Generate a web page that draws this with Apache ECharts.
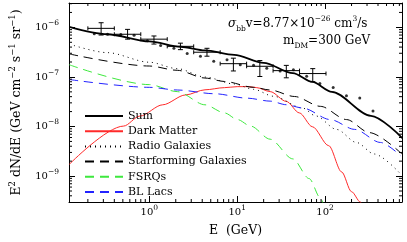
<!DOCTYPE html>
<html><head><meta charset="utf-8">
<script src="https://cdn.jsdelivr.net/npm/echarts@6/dist/echarts.min.js"></script>
<style>html,body{margin:0;padding:0;background:#fff}#c{width:407px;height:242px}</style>
</head><body><div id="c"></div>
<script>
// ---------- data ----------
const sumE    = [0.1227, 0.333, 1, 2.27, 4.30, 9.26, 20.0, 43.0, 71.7, 119.4, 332.7, 755];
const sumFlux = [1.02e-6, 7.26e-7, 5.2e-7, 4.06e-7, 3.42e-7, 2.78e-7, 1.93e-7, 1.19e-7, 7.92e-8, 5.0e-8, 1.64e-8, 5.86e-9];

const dmE    = [0.1227, 0.510, 0.780, 1.42, 2.58, 4.30, 7.17, 10.0, 13.6, 16.7, 23.7, 36.2, 51.0, 71.7, 110, 154.5, 199.5, 253, 280];
const dmFlux = [1.72e-9, 1.02e-8, 1.62e-8, 2.74e-8, 4.33e-8, 5.5e-8, 6.08e-8, 6.37e-8, 6.37e-8, 6.08e-8, 5.06e-8, 3.21e-8, 1.88e-8, 9.9e-9, 4.1e-9, 1.21e-9, 4.86e-10, 2.98e-10, 2.0e-10];

const radioE    = [0.1227, 0.333, 1, 2.08, 4.30, 9.26, 15.4, 25.8, 55.5, 78.0, 136, 227, 362, 717];
const radioFlux = [4.6e-7, 3.09e-7, 1.98e-7, 1.47e-7, 9.95e-8, 7.2e-8, 5.62e-8, 4.08e-8, 2.36e-8, 1.64e-8, 8.7e-9, 4.77e-9, 2.79e-9, 1.12e-9];

const sfE    = [0.1227, 1, 2.08, 4.30, 7.17, 15.4, 23.7, 44.9, 88.7, 175.5, 318.6, 749];
const sfFlux = [2.91e-7, 1.66e-7, 1.36e-7, 9.5e-8, 8.1e-8, 6.17e-8, 5.45e-8, 4.03e-8, 2.55e-8, 1.38e-8, 7.53e-9, 2.79e-9];

const fsrqE    = [0.1227, 1, 2.08, 4.30, 7.17, 10.1, 14.2, 23.7, 43.0, 65.9, 88.8, 97.5];
const fsrqFlux = [1.76e-7, 7.0e-8, 5.06e-8, 2.74e-8, 1.88e-8, 1.38e-8, 1.02e-8, 5.55e-9, 2.22e-9, 8.9e-10, 3.58e-10, 2.45e-10];

const bllacE    = [0.1227, 1, 2.08, 5.55, 13.0, 23.7, 36.2, 55.5, 114.5, 217, 426, 717];
const bllacFlux = [8.87e-8, 6.17e-8, 5.45e-8, 4.58e-8, 3.73e-8, 3.25e-8, 2.75e-8, 2.36e-8, 1.38e-8, 8.75e-9, 4.77e-9, 2.6e-9];

// measured data with error bars
const dataE        = [0.283, 0.566, 1.13, 2.26, 4.53, 9.05, 18.1, 36.2, 72.4];
const dataFlux     = [9.55e-7, 7.26e-7, 5.78e-7, 4.14e-7, 3.15e-7, 1.85e-7, 1.64e-7, 1.34e-7, 1.17e-7];
const dataFluxLow  = [7.0e-7, 5.78e-7, 4.6e-7, 3.55e-7, 2.62e-7, 1.32e-7, 1.02e-7, 9.6e-8, 8.0e-8];
const dataFluxHigh = [1.24e-6, 9.1e-7, 6.7e-7, 4.8e-7, 3.78e-7, 2.39e-7, 2.14e-7, 1.71e-7, 1.47e-7];
const binEdges     = [0.2, 0.4, 0.8, 1.6, 3.2, 6.4, 12.8, 25.6, 51.2, 102.4];

// dots without error bars
const dotE    = [0.2366, 0.335, 0.474, 0.671, 0.951, 1.346, 1.905, 2.698, 3.82, 5.41, 7.66, 10.84, 15.35, 21.7, 30.8, 43.6, 61.7, 87.3, 123.6, 175, 248, 351];
const dotFlux = [7.43e-7, 7.26e-7, 7.16e-7, 6.93e-7, 5.35e-7, 4.30e-7, 3.78e-7, 2.98e-7, 2.62e-7, 2.07e-7, 2.21e-7, 1.76e-7, 1.72e-7, 1.50e-7, 1.31e-7, 1.40e-7, 1.03e-7, 7.4e-8, 6.1e-8, 4.18e-8, 3.78e-8, 2.06e-8];

// axes
const xMin = 0.122, xMax = 750;
const yMin = 3.0e-10, yMax = 3.1e-6;
const xTickExponents = [0, 1, 2];
const yTickExponents = [-9, -8, -7, -6];
const minorMantissas = [2, 3, 4, 5, 6, 7, 8, 9];

const legendNames = ['Sum', 'Dark Matter', 'Radio Galaxies', 'Starforming Galaxies', 'FSRQs', 'BL Lacs'];
// ---------------------------------------------------

const FONT = 'DejaVu Serif';
const pairs = (xs, ys) => xs.map((x, i) => [x, ys[i]]);

function minorList(lo, hi) {
  const out = [];
  for (let n = Math.floor(Math.log10(lo)); n <= Math.ceil(Math.log10(hi)); n++) {
    for (const m of minorMantissas) {
      const v = m * Math.pow(10, n);
      if (v > lo && v < hi) out.push(v);
    }
  }
  return out;
}

function powLabel(exps) {
  return function (v) {
    const e = Math.round(Math.log10(v));
    if (exps.indexOf(e) < 0 || Math.abs(Math.log10(v) - e) > 1e-6) return '';
    return '{b|10}{s|' + String(e).replace('-', '\u2212') + '}';
  };
}
const labelRich = {
  b: { fontFamily: FONT, fontSize: 10, lineHeight: 16, color: '#000' },
  s: { fontFamily: FONT, fontSize: 7.5, lineHeight: 9, verticalAlign: 'top', color: '#000' }
};

function lineSeries(name, xs, ys, color, width, type) {
  return {
    name, type: 'line', data: pairs(xs, ys), showSymbol: false, symbol: 'none',
    smooth: 0.3, smoothMonotone: 'x', clip: true,
    lineStyle: { color, width, type }, itemStyle: { color },
    emphasis: { disabled: true }, z: 3
  };
}

const axisCommon = {
  type: 'log', logBase: 10,
  axisLine: { show: true, lineStyle: { color: '#000', width: 1 } },
  axisTick: { show: true, inside: true, length: 6, lineStyle: { color: '#000', width: 1 } },
  splitLine: { show: false },
  minorTick: { show: false }, minorSplitLine: { show: false }
};

const chart = echarts.init(document.getElementById('c'), null, { renderer: 'canvas' });
chart.setOption({
  animation: false,
  backgroundColor: '#fff',
  grid: { left: 61, right: 5, top: 3, bottom: 36 },
  xAxis: [
    Object.assign({}, axisCommon, {
      position: 'bottom', min: xMin, max: xMax,
      name: 'E  (GeV)', nameLocation: 'middle', nameGap: 22, nameMoveOverlap: false,
      nameTextStyle: { fontFamily: FONT, fontSize: 12.5, color: '#000' },
      axisLabel: { show: true, margin: 2, formatter: powLabel(xTickExponents), rich: labelRich, showMinLabel: false, showMaxLabel: false, hideOverlap: false }
    }),
    Object.assign({}, axisCommon, { position: 'top', min: xMin, max: xMax, axisLabel: { show: false } })
  ],
  yAxis: [
    Object.assign({}, axisCommon, {
      position: 'left', min: yMin, max: yMax,
      name: '{b|E}{s|2}{b| dN/dE (GeV cm}{s|\u22122}{b| s}{s|\u22121}{b| sr}{s|\u22121}{b|)}',
      nameLocation: 'middle', nameRotate: 90, nameGap: 44, nameMoveOverlap: false,
      nameTextStyle: {
        rich: {
          b: { fontFamily: FONT, fontSize: 12.5, lineHeight: 17, color: '#000' },
          s: { fontFamily: FONT, fontSize: 8.5, lineHeight: 10, verticalAlign: 'top', color: '#000' }
        }
      },
      axisLabel: { show: true, margin: 10, formatter: powLabel(yTickExponents), rich: labelRich, showMinLabel: false, showMaxLabel: false, hideOverlap: false }
    }),
    Object.assign({}, axisCommon, { position: 'right', min: yMin, max: yMax, axisLabel: { show: false } })
  ],
  legend: {
    data: legendNames, orient: 'vertical', left: 79, top: 104,
    itemWidth: 38, itemHeight: 14, itemGap: 1.2, selectedMode: false,
    itemStyle: { color: 'rgba(0,0,0,0)', borderWidth: 0, opacity: 0 },
    textStyle: { fontFamily: FONT, fontSize: 11, color: '#000', lineHeight: 14 }
  },
  graphic: [
    {
      type: 'text', left: 228, top: 15, silent: true,
      style: {
        text: '{i|\u03c3}{d|bb}{n|v=8.77\u00d710}{u|\u221226}{n| cm}{u|3}{n|/s}',
        rich: {
          n: { fontFamily: FONT, fontSize: 12, lineHeight: 18, fill: '#000' },
          i: { fontFamily: FONT, fontSize: 12, fontStyle: 'italic', lineHeight: 18, fill: '#000' },
          d: { fontFamily: FONT, fontSize: 7.5, lineHeight: 9, verticalAlign: 'bottom', fill: '#000' },
          u: { fontFamily: FONT, fontSize: 7.5, lineHeight: 9, verticalAlign: 'top', fill: '#000' }
        }
      }
    },
    {
      type: 'text', left: 283, top: 35, silent: true,
      style: {
        text: '{n|m}{d|DM}{n|=300 GeV}',
        rich: {
          n: { fontFamily: FONT, fontSize: 12, lineHeight: 18, fill: '#000' },
          d: { fontFamily: FONT, fontSize: 7.5, lineHeight: 9, verticalAlign: 'bottom', fill: '#000' }
        }
      }
    }
  ],
  series: [
    lineSeries('Dark Matter', dmE, dmFlux, '#ff2a2a', 1, 'solid'),
    lineSeries('Radio Galaxies', radioE, radioFlux, '#000', 1, [1, 4]),
    lineSeries('Starforming Galaxies', sfE, sfFlux, '#000', 1, [9, 6]),
    lineSeries('FSRQs', fsrqE, fsrqFlux, '#3ee83e', 1, [9, 6]),
    lineSeries('BL Lacs', bllacE, bllacFlux, '#2323ff', 1, [9, 6]),
    lineSeries('Sum', sumE, sumFlux, '#000', 1.8, 'solid'),
    {
      name: 'dots', type: 'scatter', data: pairs(dotE, dotFlux),
      symbol: 'circle', symbolSize: 3, itemStyle: { color: '#000' }, silent: true, z: 4
    },
    {
      name: 'data', type: 'custom', silent: true, z: 5,
      data: dataE.map((e, i) => [e, dataFlux[i], binEdges[i], binEdges[i + 1], dataFluxLow[i], dataFluxHigh[i]]),
      encode: { x: 0, y: 1 },
      renderItem: function (params, api) {
        const c = api.coord([api.value(0), api.value(1)]);
        const l = api.coord([api.value(2), api.value(1)]);
        const r = api.coord([api.value(3), api.value(1)]);
        const lo = api.coord([api.value(0), api.value(4)]);
        const hi = api.coord([api.value(0), api.value(5)]);
        const st = { stroke: '#000', lineWidth: 1 };
        const ln = (x1, y1, x2, y2) => ({ type: 'line', shape: { x1, y1, x2, y2 }, style: st });
        return {
          type: 'group', children: [
            ln(l[0], c[1], r[0], c[1]),
            ln(c[0], lo[1], c[0], hi[1]),
            ln(c[0] - 2.5, lo[1], c[0] + 2.5, lo[1]),
            ln(c[0] - 2.5, hi[1], c[0] + 2.5, hi[1]),
            ln(l[0], c[1] - 2, l[0], c[1] + 2),
            ln(r[0], c[1] - 2, r[0], c[1] + 2)
          ]
        };
      }
    },
    {
      name: 'xminor', type: 'custom', silent: true, z: 6, clip: false,
      data: minorList(xMin, xMax).map(v => [v, yMin]),
      encode: { x: 0, y: 1 },
      renderItem: function (params, api) {
        const b = api.coord([api.value(0), yMin]);
        const t = api.coord([api.value(0), yMax]);
        const st = { stroke: '#000', lineWidth: 1 };
        return { type: 'group', children: [
          { type: 'line', shape: { x1: b[0], y1: b[1], x2: b[0], y2: b[1] - 3 }, style: st },
          { type: 'line', shape: { x1: t[0], y1: t[1], x2: t[0], y2: t[1] + 3 }, style: st }
        ] };
      }
    },
    {
      name: 'yminor', type: 'custom', silent: true, z: 6, clip: false,
      data: minorList(yMin, yMax).map(v => [xMin, v]),
      encode: { x: 0, y: 1 },
      renderItem: function (params, api) {
        const a = api.coord([xMin, api.value(1)]);
        const z = api.coord([xMax, api.value(1)]);
        const st = { stroke: '#000', lineWidth: 1 };
        return { type: 'group', children: [
          { type: 'line', shape: { x1: a[0], y1: a[1], x2: a[0] + 3, y2: a[1] }, style: st },
          { type: 'line', shape: { x1: z[0], y1: z[1], x2: z[0] - 3, y2: z[1] }, style: st }
        ] };
      }
    }
  ]
});
</script></body></html>
